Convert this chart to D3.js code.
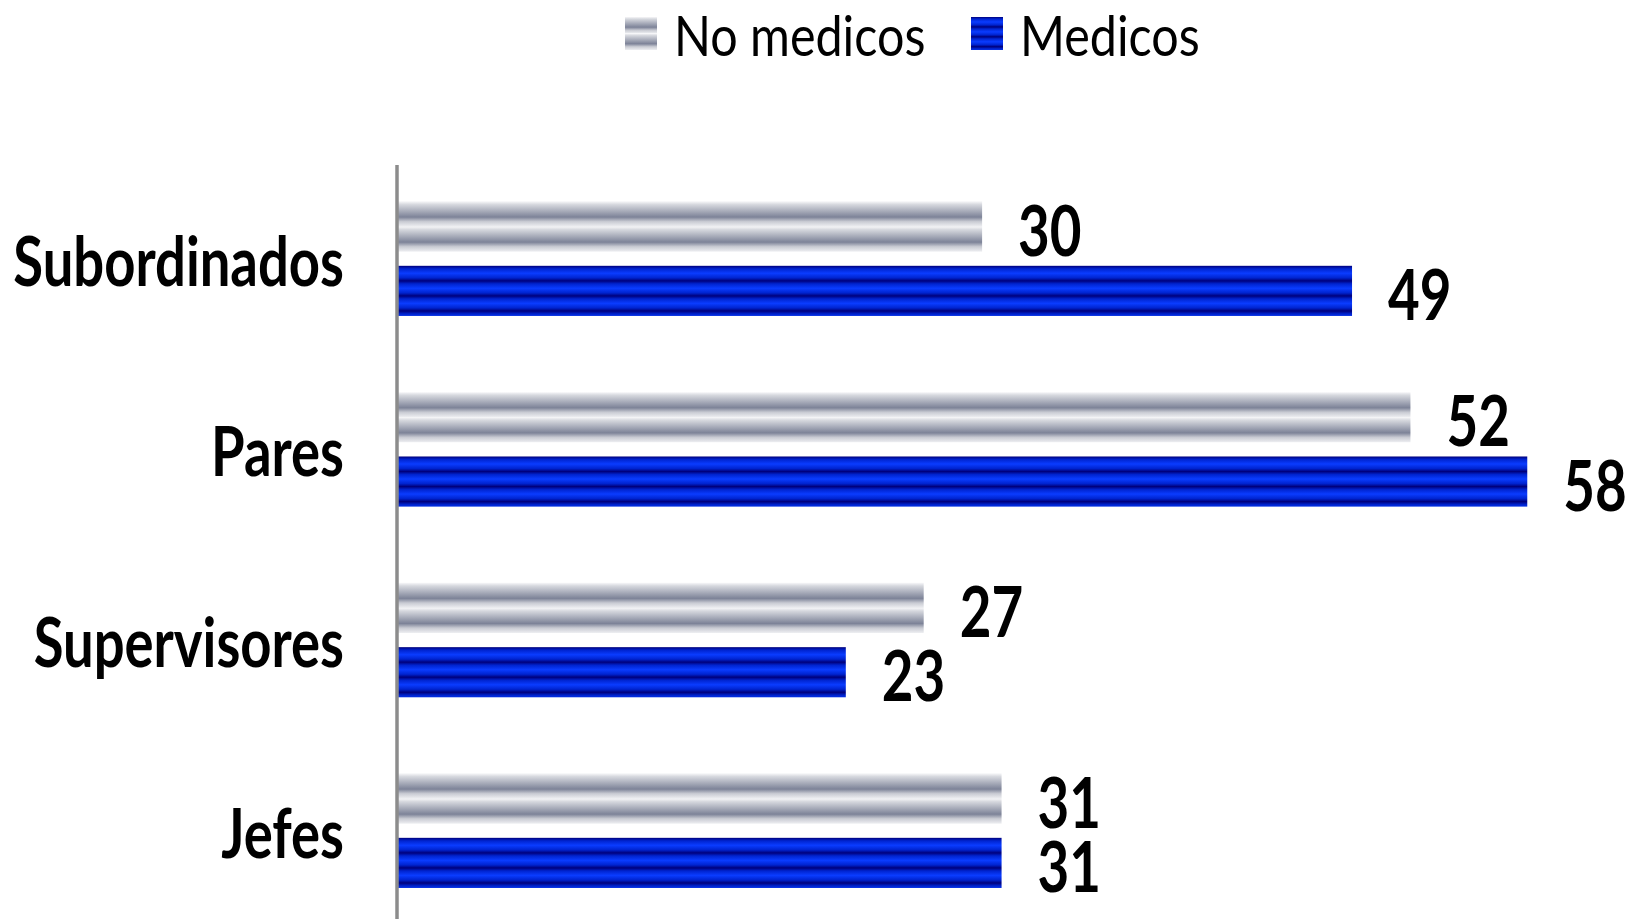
<!DOCTYPE html>
<html>
<head>
<meta charset="utf-8">
<script src="https://cdn.jsdelivr.net/npm/d3@7/dist/d3.min.js"></script>
<style>
  html, body { margin: 0; padding: 0; background: #fff; }
  svg { display: block; }
  text { font-family: Lato, "Open Sans", sans-serif; fill: #000; }
</style>
</head>
<body>
<svg id="chart" width="1633" height="919"></svg>
<script>
// Categories and series values
const categories = ["Subordinados", "Pares", "Supervisores", "Jefes"];
const seriesNames = ["No medicos", "Medicos"];
const noMedicos = [30, 52, 27, 31];
const medicos = [49, 58, 23, 31];

const W = 1633, H = 919;
const svg = d3.select("#chart");

// Striped gradients for the two series
const defs = svg.append("defs");

function stripeGradient(id, period, stops) {
  const g = defs.append("linearGradient")
    .attr("id", id)
    .attr("x1", 0).attr("y1", 0)
    .attr("x2", 0).attr("y2", period)
    .attr("spreadMethod", "repeat");
  stops.forEach(([o, c]) => g.append("stop").attr("offset", o).attr("stop-color", c));
}

stripeGradient("gradGray", 0.5, [
  [0, "#f6f6f8"], [0.12, "#d6d8de"], [0.62, "#7d8398"], [0.8, "#c9cbd3"], [1, "#eeeff2"]
]);
stripeGradient("gradBlue", 0.3, [
  [0, "#00007c"], [0.2, "#0024d0"], [0.5, "#0a3cff"], [0.8, "#0024d0"], [1, "#00007c"]
]);

const fills = { "No medicos": "url(#gradGray)", "Medicos": "url(#gradBlue)" };

// Scales
const x = d3.scaleLinear().domain([0, 60]).range([398, 398 + 60 * 19.47]);
const y0 = d3.scaleBand().domain(categories).range([163.4, 926.1])
  .paddingInner(0.4).paddingOuter(0.2);
const y1 = d3.scaleBand().domain(seriesNames).range([0, y0.bandwidth()])
  .paddingInner(0.22);

const rows = categories.map((c, i) => ({
  category: c,
  values: [
    { series: "No medicos", value: noMedicos[i] },
    { series: "Medicos", value: medicos[i] }
  ]
}));

// Bars
const groups = svg.append("g").selectAll("g")
  .data(rows).join("g")
  .attr("transform", d => `translate(0,${y0(d.category)})`);

groups.selectAll("rect")
  .data(d => d.values).join("rect")
  .attr("x", x(0))
  .attr("y", d => y1(d.series))
  .attr("width", d => x(d.value) - x(0))
  .attr("height", y1.bandwidth())
  .attr("fill", d => fills[d.series]);

// Value labels
const numScale = 0.77;
groups.selectAll("text.value")
  .data(d => d.values).join("text")
  .attr("class", "value")
  .attr("transform", d => `translate(${x(d.value) + 36},${y1(d.series) + y1.bandwidth() / 2 + 29}) scale(${numScale},1)`)
  .attr("font-size", 71)
  .attr("font-weight", 700)
  .text(d => d.value);

// Vertical category axis
const yAxis = d3.axisLeft(y0).tickSize(0).tickPadding(0);
const axisG = svg.append("g")
  .attr("transform", `translate(397,0)`)
  .call(yAxis);
axisG.select(".domain").remove();
axisG.append("line")
  .attr("x1", 0).attr("x2", 0)
  .attr("y1", 165).attr("y2", H)
  .attr("stroke", "#8c8c8c")
  .attr("stroke-width", 3.5);

const catScale = 0.80;
axisG.selectAll(".tick text")
  .attr("x", null).attr("dy", null)
  .attr("text-anchor", "end")
  .attr("font-family", "Lato, sans-serif")
  .attr("font-size", 68)
  .attr("font-weight", 700)
  .attr("fill", "#000")
  .attr("transform", `translate(-53,27) scale(${catScale},1)`);

// Legend
const legScale = 0.85;
const legend = svg.append("g");
const legendX = [625, 971];
seriesNames.forEach((s, i) => {
  const g = legend.append("g").attr("transform", `translate(${legendX[i]},0)`);
  g.append("rect")
    .attr("x", 0).attr("y", 17)
    .attr("width", 32).attr("height", 33)
    .attr("fill", fills[s]);
  g.append("text")
    .attr("transform", `translate(49,56) scale(${legScale},1)`)
    .attr("font-size", 57)
    .text(s);
});
</script>
</body>
</html>
